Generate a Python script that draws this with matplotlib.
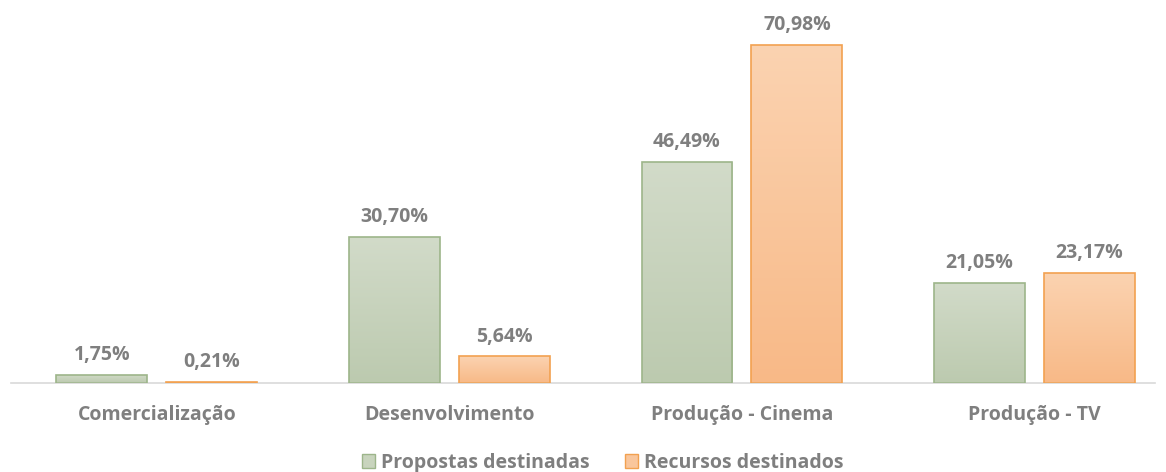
import numpy as np
import matplotlib
matplotlib.use("Agg")
from matplotlib import pyplot as plt
from matplotlib.patches import Patch

# ---------------- Data ----------------
categorias = ["Comercialização", "Desenvolvimento", "Produção - Cinema", "Produção - TV"]
propostas = [1.75, 30.70, 46.49, 21.05]
recursos = [0.21, 5.64, 70.98, 23.17]
series_names = ["Propostas destinadas", "Recursos destinados"]

fam = ['Open Sans', 'DejaVu Sans']
plt.rcParams['font.family'] = fam
text_gray = "#7f7f7f"
fs = 14

fig = plt.figure(figsize=(11.66, 4.72), dpi=100)
ax = fig.add_axes([11 / 1166, 89 / 472, 1144 / 1166, 383 / 472])

x = np.arange(len(categorias))
width = 0.311
offset = 0.188

green_top, green_bot = "#d2dbc9", "#bccaaf"
orange_top, orange_bot = "#fbd3b1", "#f8b987"


def grad_bars(xs, vals, top, bot, edge):
    bars = ax.bar(xs, vals, width, color="none", edgecolor=edge, linewidth=1.2, zorder=3)
    c1 = np.array(matplotlib.colors.to_rgb(top))
    c2 = np.array(matplotlib.colors.to_rgb(bot))
    t = np.linspace(0, 1, 256)[:, None]
    img = (c1 * (1 - t) + c2 * t)[:, None, :]
    for b in bars:
        x0, y0 = b.get_x(), b.get_y()
        w, h = b.get_width(), b.get_height()
        im = ax.imshow(img, extent=[x0, x0 + w, y0, y0 + h], aspect="auto", zorder=2, origin="upper")
        im.set_clip_path(b)
    return bars


grad_bars(x - offset, propostas, green_top, green_bot, "#9db58a")
grad_bars(x + offset, recursos, orange_top, orange_bot, "#f2a150")

for xi, v in zip(x - offset, propostas):
    ax.text(xi, v + 2.0, f"{v:.2f}%".replace(".", ","), ha="center", va="bottom",
            fontsize=fs, fontweight="bold", color=text_gray)
for xi, v in zip(x + offset, recursos):
    ax.text(xi, v + 2.0, f"{v:.2f}%".replace(".", ","), ha="center", va="bottom",
            fontsize=fs, fontweight="bold", color=text_gray)

ax.set_xlim(-0.499, 3.412)
ax.set_ylim(0, 80.4)
ax.set_yticks([])
ax.set_xticks(x)
ax.set_xticklabels(categorias, fontsize=fs, fontweight="bold", color=text_gray)
ax.tick_params(axis="x", length=0, pad=16)
for s in ["top", "right", "left"]:
    ax.spines[s].set_visible(False)
ax.spines["bottom"].set_color("#d9d9d9")
ax.spines["bottom"].set_linewidth(1.2)

handles = [Patch(facecolor="#c8d4bd", edgecolor="#9db58a"),
           Patch(facecolor="#f9c69c", edgecolor="#f2a150")]
leg = fig.legend(handles, series_names, loc="center", bbox_to_anchor=(0.517, 0.02),
                 ncol=2, frameon=False, handlelength=0.7, handleheight=0.7,
                 handletextpad=0.3, columnspacing=1.8,
                 prop={"family": fam, "weight": "bold", "size": fs})
for t in leg.get_texts():
    t.set_color(text_gray)

fig.savefig("out.png", dpi=100, facecolor="white")
